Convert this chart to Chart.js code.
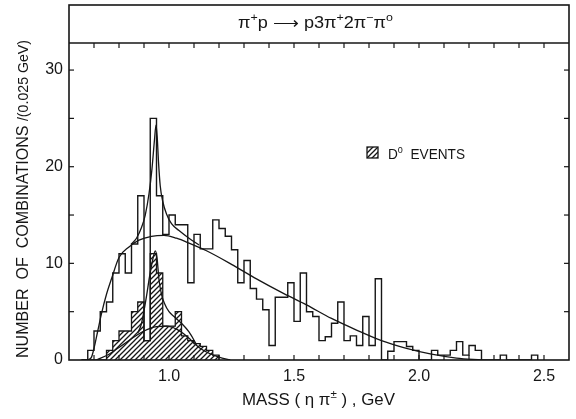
<!DOCTYPE html>
<html>
<head>
<meta charset="utf-8">
<script src="https://cdn.jsdelivr.net/npm/chart.js@4.4.1/dist/chart.umd.min.js"></script>
<style>
  html, body { margin: 0; padding: 0; background: #fff; }
  canvas { display: block; }
</style>
</head>
<body>
<canvas id="c" width="576" height="419"></canvas>
<script>
// ---- binning of the eta-pi mass spectrum (GeV) ----
const binStart = 0.65;
const binWidth = 0.025;

// combinations per 0.025 GeV, all events
const allCounts = [
  0, 1, 3, 5, 6, 9, 11, 9, 12, 17,
  2, 25, 17, 13, 15, 14, 14, 8, 13, 11.5,
  11.5, 14.5, 13.6, 12.8, 11.4, 8, 10.3, 7.4, 6.3, 5.2,
  1.5, 6.5, 6.5, 8, 4, 9, 5, 4.5, 2, 2.4,
  3.8, 6, 2, 2.5, 1.5, 4.5, 1.5, 8.4, 0, 0.9,
  1.9, 1.9, 1.4, 1, 0, 0, 1, 0.5, 0.5, 1,
  1.9, 0.5, 1.5, 1, 0, 0, 0, 0.5, 0, 0,
  0, 0, 0.5
];

// combinations from D0 events (hatched)
const d0Counts = [
  0, 0, 0, 0, 1, 2, 3, 3, 5, 6,
  2, 11, 9, 3.5, 3.5, 5, 2.5, 2, 1.7, 1.4,
  1, 0.5
];

// fitted curves: background shape, all events
const bgMass  = [0.675, 0.69, 0.70, 0.715, 0.73, 0.75, 0.77, 0.80, 0.84, 0.88, 0.93, 0.98, 1.03, 1.08, 1.15, 1.25, 1.35, 1.45, 1.55, 1.65, 1.75, 1.85, 1.95, 2.05, 2.15, 2.25];
const bgValue = [0, 0.3, 1.2, 3.0, 4.8, 6.8, 8.4, 10.6, 11.7, 12.4, 12.8, 12.9, 12.6, 12.1, 11.3, 9.9, 8.4, 7.0, 5.7, 4.3, 3.1, 2.0, 1.2, 0.6, 0.2, 0];

// fitted curve with the resonance, all events
const peakMass  = [0.85, 0.87, 0.89, 0.905, 0.92, 0.932, 0.942, 0.948, 0.953, 0.958, 0.965, 0.975, 0.99, 1.01, 1.04, 1.08, 1.12];
const peakValue = [12.0, 12.6, 13.7, 15.0, 17.2, 19.8, 22.8, 24.3, 23.0, 20.5, 18.0, 16.4, 15.1, 14.1, 13.4, 12.6, 11.9];

// fitted curves, D0 events
const d0BgMass  = [0.71, 0.76, 0.80, 0.85, 0.90, 0.95, 0.99, 1.03, 1.06, 1.09, 1.12, 1.16, 1.20, 1.245];
const d0BgValue = [0, 0.6, 1.3, 2.2, 3.0, 3.45, 3.5, 3.2, 2.7, 2.0, 1.3, 0.7, 0.3, 0];
const d0PeakMass  = [0.875, 0.888, 0.898, 0.91, 0.922, 0.935, 0.945, 0.952, 0.96, 0.97, 0.983, 1.0, 1.02, 1.05, 1.08, 1.11];
const d0PeakValue = [2.8, 3.6, 4.8, 6.6, 8.6, 10.4, 11.3, 10.6, 8.3, 6.8, 5.8, 5.0, 4.5, 3.8, 2.9, 1.6];

// axis labelling
const xTickLabels = [1.0, 1.5, 2.0, 2.5];
const yTickLabels = [0, 10, 20, 30];

const INK = '#161616';
const FONT = "'Liberation Sans', Arial, sans-serif";
const HEADER_TOP = 5;

const canvas = document.getElementById('c');
const ctx0 = canvas.getContext('2d');

// diagonal hatching for the D0 histogram
function makeHatch() {
  const p = 5;
  const c = document.createElement('canvas');
  c.width = p; c.height = p;
  const g = c.getContext('2d');
  g.strokeStyle = INK;
  g.lineWidth = 1.3;
  g.beginPath();
  g.moveTo(0, p); g.lineTo(p, 0);
  g.moveTo(-1, 1); g.lineTo(1, -1);
  g.moveTo(p - 1, p + 1); g.lineTo(p + 1, p - 1);
  g.stroke();
  return ctx0.createPattern(c, 'repeat');
}
const hatch = makeHatch();

// histogram outline as a step line: value i holds from edge i to edge i+1
function stepPoints(counts) {
  const pts = [{ x: binStart, y: 0 }];
  counts.forEach((v, i) => pts.push({ x: binStart + i * binWidth, y: v }));
  pts.push({ x: binStart + counts.length * binWidth, y: 0 });
  return pts;
}
function curvePoints(mass, value) {
  return mass.map((m, i) => ({ x: m, y: value[i] }));
}

const curveStyle = {
  borderColor: INK, borderWidth: 1.3, pointRadius: 0, fill: false,
  cubicInterpolationMode: 'monotone'
};

// rich text: segments of {t, sup}; drawn horizontally squeezed/stretched to a target width
function drawRich(ctx, segs, x0, baseline, size, targetWidth) {
  const fontFor = s => `${s.sup ? Math.round(size * 0.68) : size}px ${FONT}`;
  let w = 0;
  segs.forEach(s => { ctx.font = fontFor(s); w += ctx.measureText(s.t).width; });
  const sx = targetWidth ? targetWidth / w : 1;
  ctx.save();
  ctx.translate(x0, baseline);
  ctx.scale(sx, 1);
  let x = 0;
  segs.forEach(s => {
    ctx.font = fontFor(s);
    ctx.fillText(s.t, x, s.sup ? -size * 0.42 : 0);
    x += ctx.measureText(s.t).width;
  });
  ctx.restore();
}

const framePlugin = {
  id: 'frame',
  afterDraw(chart) {
    const { ctx, chartArea: a, scales: { x, y } } = chart;
    const line = (x1, y1, x2, y2) => { ctx.beginPath(); ctx.moveTo(x1, y1); ctx.lineTo(x2, y2); ctx.stroke(); };
    ctx.save();
    ctx.strokeStyle = INK;
    ctx.fillStyle = INK;
    ctx.lineWidth = 1.6;
    ctx.strokeRect(a.left, HEADER_TOP, a.right - a.left, a.bottom - HEADER_TOP);
    line(a.left, a.top, a.right, a.top);

    // inward tick marks on all four sides
    ctx.lineWidth = 1.2;
    x.ticks.forEach(t => {
      const px = x.getPixelForValue(t.value);
      if (px <= a.left + 1 || px >= a.right - 1) return;
      line(px, a.bottom, px, a.bottom - 5);
      line(px, a.top, px, a.top + 5);
    });
    y.ticks.forEach(t => {
      const py = y.getPixelForValue(t.value);
      if (py >= a.bottom - 1 || py <= a.top + 1) return;
      line(a.left, py, a.left + 5, py);
      line(a.right, py, a.right - 5, py);
    });

    // reaction in the header band
    ctx.textBaseline = 'alphabetic';
    drawRich(ctx, [
      { t: 'π' }, { t: '+', sup: true }, { t: 'p ' }, { t: '⟶' }, { t: ' p3π' },
      { t: '+', sup: true }, { t: '2π' }, { t: '−', sup: true }, { t: 'π' }, { t: 'o', sup: true }
    ], 238, 28, 16, 155);

    // legend for the hatched histogram
    ctx.fillStyle = hatch;
    ctx.fillRect(367, 147, 11, 11);
    ctx.lineWidth = 1.3;
    ctx.strokeRect(367, 147, 11, 11);
    ctx.fillStyle = INK;
    drawRich(ctx, [{ t: 'D' }, { t: 'o', sup: true }, { t: '  EVENTS' }], 388, 159, 15, 77);

    // x axis title
    drawRich(ctx, [
      { t: 'MASS ( η π' }, { t: '±', sup: true }, { t: ' ) , GeV' }
    ], 242, 405, 16, 153);

    // y axis title, reading upwards
    ctx.save();
    ctx.translate(28, 358);
    ctx.rotate(-Math.PI / 2);
    const fontA = `17px ${FONT}`, fontB = `15px ${FONT}`;
    const partA = 'NUMBER  OF  COMBINATIONS ', partB = '/(0.025 GeV)';
    ctx.font = fontA; const wA = ctx.measureText(partA).width;
    ctx.font = fontB; const wB = ctx.measureText(partB).width;
    const sx = 318 / (wA + wB);
    ctx.scale(sx, 1);
    ctx.font = fontA; ctx.fillText(partA, 0, 0);
    ctx.font = fontB; ctx.fillText(partB, wA, 0);
    ctx.restore();

    ctx.restore();
  }
};

new Chart(canvas, {
  type: 'line',
  data: {
    datasets: [
      { label: 'fit, all', data: curvePoints(peakMass, peakValue), ...curveStyle },
      { label: 'background, all', data: curvePoints(bgMass, bgValue), ...curveStyle },
      { label: 'fit, D0', data: curvePoints(d0PeakMass, d0PeakValue), ...curveStyle },
      { label: 'background, D0', data: curvePoints(d0BgMass, d0BgValue), ...curveStyle },
      {
        label: 'all events', data: stepPoints(allCounts), stepped: true,
        borderColor: INK, borderWidth: 1.4, pointRadius: 0, fill: false
      },
      {
        label: 'D0 events', data: stepPoints(d0Counts), stepped: true,
        borderColor: INK, borderWidth: 1.3, pointRadius: 0,
        fill: 'origin', backgroundColor: hatch
      }
    ]
  },
  options: {
    responsive: false,
    animation: false,
    devicePixelRatio: 1,
    layout: { padding: { top: 43, right: 1, left: 0, bottom: 0 } },
    plugins: { legend: { display: false }, title: { display: false }, tooltip: { enabled: false } },
    scales: {
      x: {
        type: 'linear', min: 0.6, max: 2.6,
        afterFit: s => { s.height = 59; },
        grid: { display: false, drawTicks: false },
        border: { display: false },
        ticks: {
          stepSize: 0.1, padding: 7, color: INK, maxRotation: 0, autoSkip: false,
          font: { family: FONT, size: 16 },
          callback: v => {
            const r = Math.round(v * 10) / 10;
            return xTickLabels.some(t => Math.abs(t - r) < 1e-6) ? r.toFixed(1) : '';
          }
        }
      },
      y: {
        type: 'linear', min: 0, max: 32.8,
        afterFit: s => { s.width = 69; },
        grid: { display: false, drawTicks: false },
        border: { display: false },
        ticks: {
          stepSize: 5, includeBounds: false, padding: 6, color: INK, autoSkip: false,
          font: { family: FONT, size: 16 },
          callback: v => (yTickLabels.includes(v) ? String(v) : '')
        }
      }
    }
  },
  plugins: [framePlugin]
});
</script>
</body>
</html>
